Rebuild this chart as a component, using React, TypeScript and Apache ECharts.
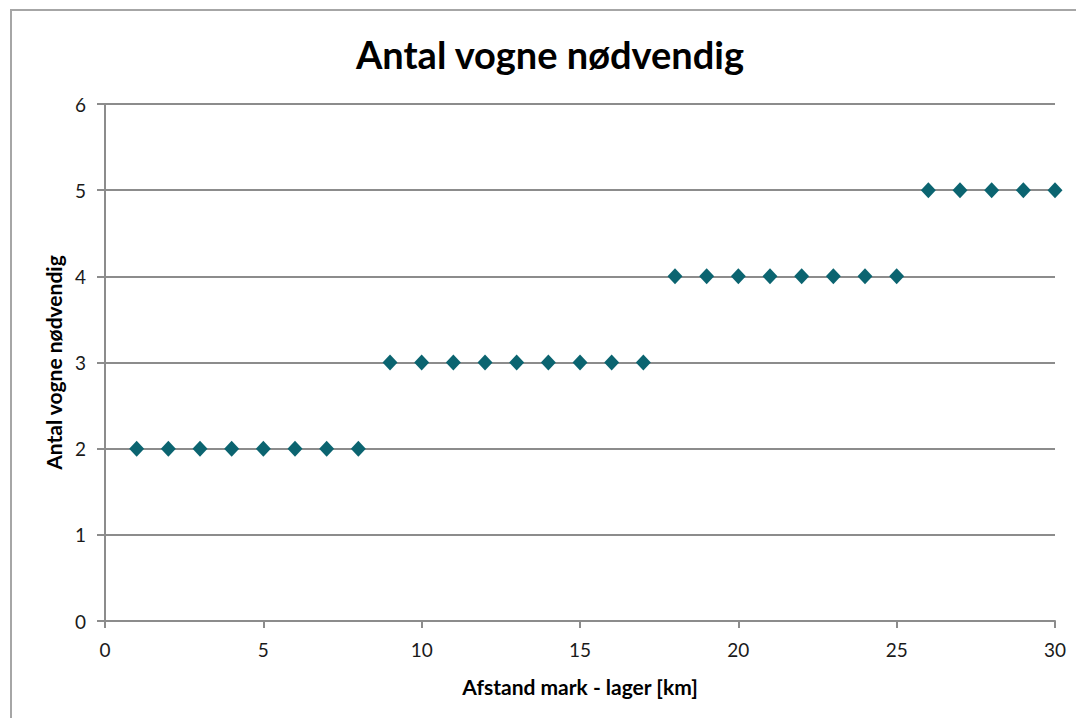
import React, { useEffect, useRef } from "react";
import * as echarts from "echarts";

const distancesKm = [1,2,3,4,5,6,7,8,9,10,11,12,13,14,15,16,17,18,19,20,21,22,23,24,25,26,27,28,29,30];
const wagonsNeeded = [2,2,2,2,2,2,2,2,3,3,3,3,3,3,3,3,3,4,4,4,4,4,4,4,4,5,5,5,5,5];
const xTicks = [0, 5, 10, 15, 20, 25, 30];
const yTicks = [0, 1, 2, 3, 4, 5, 6];

const titleText = "Antal vogne nødvendig";
const xTitle = "Afstand mark - lager [km]";
const yTitle = "Antal vogne nødvendig";

export default function App() {
  const ref = useRef<HTMLDivElement>(null);
  useEffect(() => {
    if (!ref.current) return;
    const chart = echarts.init(ref.current, null, { renderer: "svg" });
    const font = "Lato, 'Open Sans', sans-serif";
    chart.setOption({
      animation: false,
      backgroundColor: "#ffffff",
      textStyle: { fontFamily: font },
      title: {
        text: titleText,
        left: 545,
        top: 30,
        textAlign: "center",
        textStyle: { fontFamily: font, fontSize: 38, fontWeight: "bold", color: "#000" },
      },
      graphic: [
        {
          type: "rect",
          shape: { x: 11, y: 10, width: 1200, height: 900 },
          style: { fill: "none", stroke: "#a6a6a6", lineWidth: 2 },
          silent: true,
        },
      ],
      grid: { left: 105, right: 21, top: 104, bottom: 97 },
      xAxis: {
        type: "value",
        min: xTicks[0],
        max: xTicks[xTicks.length - 1],
        interval: 5,
        name: xTitle,
        nameLocation: "middle",
        nameGap: 55,
        nameTextStyle: { fontFamily: font, fontSize: 21, fontWeight: "bold", color: "#000" },
        axisLine: { show: true, lineStyle: { color: "#8c8c8c", width: 2 } },
        axisTick: { show: true, length: 7, lineStyle: { color: "#8c8c8c", width: 2 } },
        axisLabel: { fontFamily: font, fontSize: 19, color: "#1a1a1a", margin: 19 },
        splitLine: { show: false },
      },
      yAxis: {
        type: "value",
        min: yTicks[0],
        max: yTicks[yTicks.length - 1],
        interval: 1,
        name: yTitle,
        nameLocation: "middle",
        nameGap: 40,
        nameRotate: 90,
        nameTextStyle: { fontFamily: font, fontSize: 21, fontWeight: "bold", color: "#000" },
        axisLine: { show: true, lineStyle: { color: "#8c8c8c", width: 2 } },
        axisTick: { show: true, length: 8, lineStyle: { color: "#8c8c8c", width: 2 } },
        axisLabel: { fontFamily: font, fontSize: 19, color: "#1a1a1a", margin: 19 },
        splitLine: { show: true, lineStyle: { color: "#8c8c8c", width: 2 } },
      },
      series: [
        {
          type: "scatter",
          symbol: "diamond",
          symbolSize: [15, 16],
          itemStyle: { color: "#0b6470", opacity: 1 },
          data: distancesKm.map((d, i) => [d, wagonsNeeded[i]]),
        },
      ],
    });
    return () => chart.dispose();
  }, []);
  return (
    <div
      ref={ref}
      style={{ position: "fixed", left: 0, top: 0, width: 1076, height: 718, background: "#fff" }}
    />
  );
}
